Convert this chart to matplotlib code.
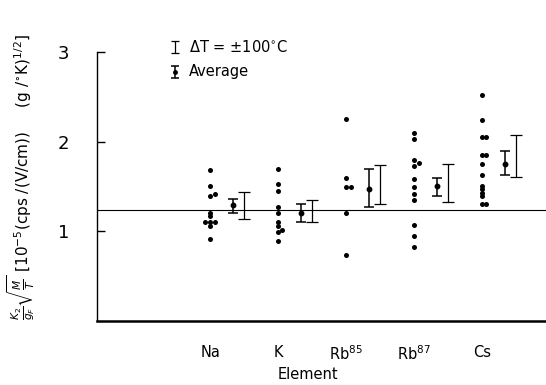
import matplotlib.pyplot as plt

# elements along the x axis
elements = ['Na', 'K', r'Rb$^{85}$', r'Rb$^{87}$', 'Cs']

# individual measurements for each element
na_vals = [1.68, 1.51, 1.42, 1.40, 1.21, 1.17, 1.11, 1.11, 1.11, 1.06, 0.92]
k_vals = [1.70, 1.53, 1.45, 1.27, 1.21, 1.10, 1.06, 1.01, 0.99, 0.89]
rb85_vals = [2.25, 1.59, 1.50, 1.50, 1.20, 0.74]
rb87_vals = [2.10, 2.03, 1.80, 1.76, 1.73, 1.58, 1.50, 1.42, 1.35, 1.07, 0.95, 0.83]
cs_vals = [2.52, 2.24, 2.05, 2.05, 1.85, 1.85, 1.75, 1.63, 1.51, 1.47, 1.43, 1.39, 1.31, 1.31]
all_vals = [na_vals, k_vals, rb85_vals, rb87_vals, cs_vals]

# averages with their error bars (low, high)
avg = [1.29, 1.20, 1.47, 1.51, 1.75]
avg_lo = [1.21, 1.10, 1.27, 1.40, 1.63]
avg_hi = [1.36, 1.30, 1.69, 1.60, 1.90]

# spread for delta T = +-100 C (low, high)
dt_lo = [1.14, 1.11, 1.30, 1.33, 1.61]
dt_hi = [1.44, 1.35, 1.74, 1.75, 2.07]

ref_level = 1.24

# little sideways nudges so overlapping dots show (index -> dx)
nudge = [
    {2: 0.07, 6: -0.07, 8: 0.07},
    {7: 0.06},
    {3: 0.07},
    {3: 0.07},
    {3: 0.06, 5: 0.06, 12: 0.06},
]

fig = plt.figure(figsize=(5.46, 3.85), dpi=100)
ax = fig.add_axes([0.178, 0.166, 0.822, 0.699])

for i, vals in enumerate(all_vals):
    xs = [i + 1 + nudge[i].get(j, 0) for j in range(len(vals))]
    ax.plot(xs, vals, 'o', color='black', ms=3.6, mew=0)

xa = [i + 1.34 for i in range(len(avg))]
ax.errorbar(xa, avg, yerr=[[a - l for a, l in zip(avg, avg_lo)], [h - a for a, h in zip(avg, avg_hi)]],
            fmt='o', color='black', ms=3.2, elinewidth=1.1, capsize=3.5, capthick=1.1)

xd = [i + 1.5 for i in range(len(dt_lo))]
dt_mid = [(l + h) / 2 for l, h in zip(dt_lo, dt_hi)]
ax.errorbar(xd, dt_mid, yerr=[[m - l for m, l in zip(dt_mid, dt_lo)], [h - m for m, h in zip(dt_mid, dt_hi)]],
            fmt='none', ecolor='black', elinewidth=0.9, capsize=4, capthick=0.9)

ax.axhline(ref_level, color='black', lw=0.8)

ax.set_xlim(-0.66, 5.94)
ax.set_ylim(0, 3)
ax.set_xticks(range(1, len(elements) + 1))
ax.set_xticklabels(elements, fontsize=10.5)
ax.tick_params(axis='x', length=0, pad=17)
ax.set_yticks([1, 2, 3])
ax.set_yticklabels(['1', '2', '3'], fontsize=13)
ax.tick_params(axis='y', direction='in', length=6, width=1, pad=20)
for s in ['top', 'right']:
    ax.spines[s].set_visible(False)
ax.spines['bottom'].set_linewidth(1.8)
ax.spines['left'].set_linewidth(1.0)

ax.set_xlabel('Element', fontsize=10.5)
ax.xaxis.set_label_coords(0.47, -0.17)
ax.set_ylabel(r'$\frac{K_2}{g_F}\sqrt{\frac{M}{T}}$ [10$^{-5}$(cps /(V/cm))     (g /$^{\circ}$K)$^{1/2}$]',
              fontsize=11)
ax.yaxis.set_label_coords(-0.135, 0.535)

# key in the upper left, drawn by hand in axes fractions
ax.errorbar([0.174], [1.019], yerr=[0.022], fmt='none', ecolor='black', elinewidth=0.9,
            capsize=3, capthick=0.9, transform=ax.transAxes, clip_on=False)
ax.errorbar([0.174], [0.926], yerr=[0.022], fmt='o', color='black', ms=2.5, elinewidth=1.1,
            capsize=3, capthick=1.1, transform=ax.transAxes, clip_on=False)
ax.text(0.205, 1.019, r'$\Delta$T = $\pm$100$^{\circ}$C', transform=ax.transAxes, fontsize=10.5, va='center')
ax.text(0.205, 0.926, 'Average', transform=ax.transAxes, fontsize=10.5, va='center')

fig.savefig('out.png', dpi=100)
